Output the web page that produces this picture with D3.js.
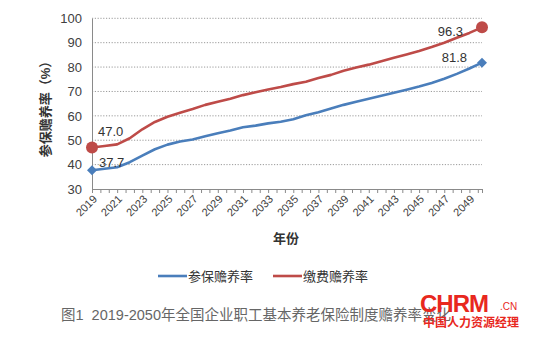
<!DOCTYPE html>
<html><head><meta charset="utf-8">
<script src="https://cdn.jsdelivr.net/npm/d3@7"></script>
<style>body{margin:0;background:#fff}svg{display:block}</style>
</head><body>
<svg id="c" width="533" height="339"></svg>
<script>
const years = d3.range(2019, 2051);
const insuredRatio = [37.7,38.3,38.9,41.0,43.7,46.3,48.2,49.5,50.3,51.6,52.9,54.0,55.3,56.0,56.9,57.6,58.6,60.2,61.5,63.0,64.5,65.8,67.0,68.2,69.5,70.7,72.0,73.5,75.2,77.2,79.4,81.8];
const payingRatio = [47.0,47.6,48.3,50.8,54.5,57.5,59.6,61.3,62.8,64.5,65.8,67.0,68.5,69.7,70.8,71.8,73.0,74.0,75.5,76.8,78.5,79.8,81.0,82.4,83.8,85.2,86.6,88.2,90.0,92.0,94.0,96.3];
const seriesNames = ["参保赡养率","缴费赡养率"];
const seriesColors = ["#4a7ebb","#be4b48"];
const yTicks = [30,40,50,60,70,80,90,100];
const xLabelYears = d3.range(2019, 2050, 2);
const caption = "图1\u00a0\u00a02019-2050年全国企业职工基本养老保险制度赡养率变化";

const svg = d3.select("#c");
const font = "'Liberation Sans','Noto Sans CJK SC',sans-serif";
const x = d3.scaleLinear().domain([2019, 2050]).range([92, 482]);
const y = d3.scaleLinear().domain([30, 100]).range([189, 18.3]);

// gridlines
svg.append("g").selectAll("line").data(yTicks.filter(v => v > 30)).join("line")
  .attr("x1", 92).attr("x2", 482).attr("y1", d => y(d)).attr("y2", d => y(d))
  .attr("stroke", "#9a9a9a").attr("stroke-width", 1).attr("stroke-dasharray", "1.2,1.6");

// y axis
const yAxis = svg.append("g").attr("transform", "translate(92,0)")
  .call(d3.axisLeft(y).tickValues(yTicks).tickSize(0).tickPadding(10));
yAxis.select(".domain").attr("stroke", "#8a8a8a");
yAxis.selectAll("text").attr("font-family", font).attr("font-size", 13).attr("fill", "#404040");

// x axis
const tickVals = d3.range(0, 47).map(i => 2019 + i * 2 / 3).concat([2050]);
const xAxis = svg.append("g").attr("transform", "translate(0,189)")
  .call(d3.axisBottom(x).tickValues(tickVals).tickSize(4).tickFormat(""));
xAxis.select(".domain").attr("stroke", "#8a8a8a");
xAxis.selectAll(".tick line").attr("stroke", "#8a8a8a");

svg.append("g").selectAll("text").data(xLabelYears).join("text")
  .attr("transform", d => `translate(${x(d) + 3},${197}) rotate(-45)`)
  .attr("text-anchor", "end").attr("dy", "0.35em")
  .attr("font-family", font).attr("font-size", 11).attr("fill", "#404040")
  .text(d => d);

// axis titles
svg.append("text").attr("transform", "translate(50,106) rotate(-90)")
  .attr("text-anchor", "middle").attr("font-family", font).attr("font-size", 13)
  .attr("font-weight", "bold").attr("fill", "#333").text("参保赡养率（%）");
svg.append("text").attr("x", 286).attr("y", 242.5).attr("text-anchor", "middle")
  .attr("font-family", font).attr("font-size", 13).attr("font-weight", "bold")
  .attr("fill", "#333").text("年份");

// lines
const line = d3.line().x((d, i) => x(years[i])).y(d => y(d)).curve(d3.curveLinear);
[insuredRatio, payingRatio].forEach((s, k) => {
  svg.append("path").datum(s).attr("d", line).attr("fill", "none")
    .attr("stroke", seriesColors[k]).attr("stroke-width", 2.6).attr("stroke-linejoin", "round");
});

// endpoint markers
const endIdx = [0, years.length - 1];
svg.append("g").selectAll("path").data(endIdx).join("path")
  .attr("d", d3.symbol(d3.symbolSquare, 50))
  .attr("transform", i => `translate(${x(years[i])},${y(insuredRatio[i])}) rotate(45)`)
  .attr("fill", seriesColors[0]);
svg.append("g").selectAll("circle").data(endIdx).join("circle")
  .attr("cx", i => x(years[i])).attr("cy", i => y(payingRatio[i])).attr("r", 6)
  .attr("fill", seriesColors[1]);

// data labels
const lbl = [
  {v: payingRatio[0], yr: years[0], dx: 6, dy: -11.5, a: "start"},
  {v: insuredRatio[0], yr: years[0], dx: 7, dy: -3, a: "start"},
  {v: payingRatio[31], yr: years[31], dx: -19, dy: 8.5, a: "end"},
  {v: insuredRatio[31], yr: years[31], dx: -15, dy: -0.5, a: "end"}
];
svg.append("g").selectAll("text").data(lbl).join("text")
  .attr("x", d => x(d.yr) + d.dx).attr("y", d => y(d.v) + d.dy)
  .attr("text-anchor", d => d.a).attr("font-family", font).attr("font-size", 13)
  .attr("fill", "#333").text(d => d.v.toFixed(1));

// legend
const legX = [158, 273];
seriesNames.forEach((n, k) => {
  svg.append("line").attr("x1", legX[k]).attr("x2", legX[k] + 29).attr("y1", 276).attr("y2", 276)
    .attr("stroke", seriesColors[k]).attr("stroke-width", 2.6);
  svg.append("text").attr("x", legX[k] + 30).attr("y", 276).attr("dy", "0.35em")
    .attr("font-family", font).attr("font-size", 13).attr("fill", "#333").text(n);
});

// caption
svg.append("text").attr("x", 61).attr("y", 315).attr("dy", "0.35em")
  .attr("font-family", font).attr("font-size", 14.5).attr("fill", "#666").text(caption);

// watermark
svg.append("text").attr("x", 420).attr("y", 312).attr("font-family", "'Liberation Sans',sans-serif")
  .attr("font-size", 24).attr("font-weight", "bold").attr("fill", "#e8281e").attr("letter-spacing", -1).text("CHRM");
svg.append("text").attr("x", 500).attr("y", 310).attr("font-family", "'Liberation Sans',sans-serif")
  .attr("font-size", 10).attr("fill", "#e8281e").text(".CN");
svg.append("text").attr("x", 423).attr("y", 327).attr("font-family", "'Noto Sans CJK SC',sans-serif")
  .attr("font-size", 12).attr("font-weight", "bold").attr("fill", "#e8281e").text("中国人力资源经理");
</script>
</body></html>
